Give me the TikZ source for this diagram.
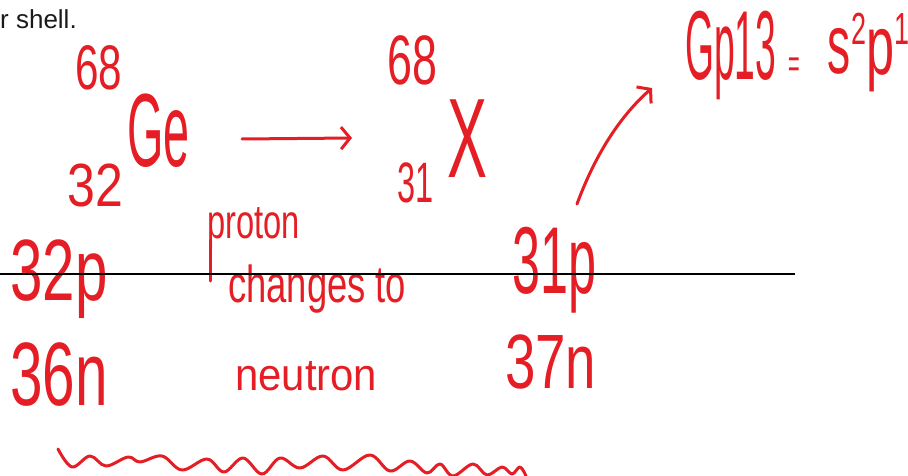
\documentclass[tikz,border=0pt]{standalone}
\usepackage{fontspec}
\setmainfont{Liberation Sans}
\usetikzlibrary{arrows.meta}
\definecolor{hred}{RGB}{228,30,36}
\definecolor{ink}{RGB}{26,26,26}
\newcommand\hw[3]{\scalebox{#2}[1]{\fontsize{#1}{#1}\selectfont #3}}
\begin{document}
\begin{tikzpicture}[x=1pt,y=-1pt,
  hand/.style={text=hred, inner sep=0pt, anchor=base west},
  stroke/.style={draw=hred, line width=3pt, line cap=round, line join=round},
  tip/.style={-{Straight Barb[length=9pt,width=22pt]}}]
\useasboundingbox (0,0) rectangle (908,476);
\fill[white] (0,0) rectangle (908,476);

% printed text
\node[text=ink, inner sep=0pt, anchor=base west] (shell) at (0,29) {\fontsize{26}{26}\selectfont r shell.};

% left nuclide
\node[hand] (massL) at (75,90) {\hw{63}{0.67}{68}};
\node[hand] (ge) at (127,167) {\hw{104}{0.45}{Ge}};
\node[hand] (zL) at (67,207) {\hw{61}{0.82}{32}};

% right nuclide
\node[hand] (massR) at (387,85) {\hw{70}{0.64}{68}};
\node[hand] (x) at (447,178) {\hw{113}{0.53}{X}};
\node[hand] (zR) at (397,203) {\hw{57}{0.57}{31}};

% reaction arrow
\coordinate (a1) at (242,139);
\coordinate (a2) at (352,138);
\draw[stroke, tip] (a1) -- (a2);

% group 13 note
\node[hand] (gp) at (685,80) {\hw{98}{0.38}{Gp13}\hspace{12pt}\raisebox{2pt}{\hw{40}{0.5}{=}}\hspace{28pt}\raisebox{6pt}{\hw{84}{0.55}{s}}\raisebox{35pt}{\hw{45}{0.6}{2}}\raisebox{5pt}{\hw{84}{0.6}{p}}\raisebox{35pt}{\hw{45}{0.6}{1}}};
\coordinate (c1) at (577,204);
\coordinate (c2) at (652,88);
\draw[stroke, tip] (c1) .. controls (594,158) and (618,118) .. (c2);

% particle counts
\node[hand] (pL) at (10,300) {\hw{87}{0.67}{32p}};
\node[hand] (nL) at (10,405) {\hw{90}{0.65}{36n}};
\node[hand] (pR) at (512,293) {\hw{95}{0.53}{31p}};
\node[hand] (nR) at (505,388) {\hw{77}{0.71}{37n}};

% explanation
\node[hand] (proton) at (207,238) {\hw{48}{0.68}{proton}};
\coordinate (s1) at (210,240);
\coordinate (s2) at (210,281);
\draw[stroke] (s1) -- (s2);
\node[hand] (changes) at (228,302) {\hw{52}{0.7}{changes to}};
\node[hand] (neutron) at (235,390) {\hw{45}{0.93}{neutron}};

% wavy underline
\draw[stroke] plot[smooth, tension=0.6] coordinates {(58,449) (72,467) (90,456) (106,466) (128,457) (140,462) (162,456) (182,470) (207,459) (224,472) (243,458) (262,474) (280,458) (300,468) (323,456) (343,470) (370,455) (390,471) (410,461) (427,473) (440,464) (453,476) (473,464) (487,475) (502,467) (512,474) (520,467) (526,476)};

% ruled line
\coordinate (l1) at (0,274);
\coordinate (l2) at (795,274);
\draw[line width=2.6pt, black] (l1) -- (l2);
\end{tikzpicture}
\end{document}
